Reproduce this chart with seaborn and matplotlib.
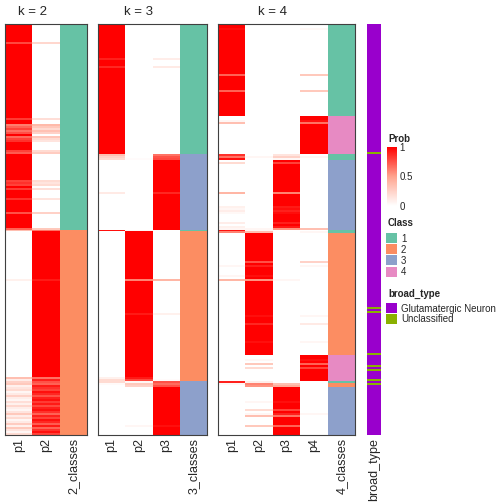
import numpy as np
import pandas as pd
import matplotlib
matplotlib.use("Agg")
import matplotlib.pyplot as plt
import seaborn as sns
from matplotlib.colors import LinearSegmentedColormap, ListedColormap
from matplotlib.patches import Rectangle
import matplotlib.cm as cm
import matplotlib.colors as mcolors

sns.set_style("white")
plt.rcParams['font.family'] = ['Liberation Sans', 'DejaVu Sans']

n_rows = 206

# class membership, top to bottom: (class, number of rows)
k2_runs = [(1, 103), (2, 103)]
k3_runs = [(1, 65), (3, 38), (1, 1), (2, 75), (3, 27)]
k4_runs = [(1, 46), (4, 19), (1, 3), (3, 35), (1, 2), (2, 61), (4, 13), (1, 1), (2, 2), (3, 24)]

# rows whose membership is not clean
k2_p1 = {9: 0.78, 47: 0.82, 50: 0.62, 51: 0.7, 52: 0.8, 53: 0.66, 54: 0.75, 56: 0.68,
         57: 0.8, 58: 0.85, 63: 0.8, 64: 0.72, 78: 0.8, 79: 0.85, 80: 0.8, 82: 0.82,
         87: 0.85, 94: 0.75, 102: 0.7, 103: 0.35, 128: 0.08}
k2_mixed_start = 177
k2_mixed_p1 = [0.35, 0.1, 0.25, 0.3, 0.08, 0.15, 0.2, 0.05, 0.12, 0.25, 0.1, 0.05, 0.18, 0.08,
               0.22, 0.1, 0.05, 0.15, 0.3, 0.1, 0.2, 0.05, 0.12, 0.28, 0.08, 0.3, 0.15, 0.05, 0.2]

k3_extra = {17: (0.9, 0, 0.1), 21: (0.88, 0, 0.12), 65: (0.35, 0, 0.65), 66: (0.25, 0, 0.75),
            67: (0.2, 0.02, 0.78), 84: (0.12, 0, 0.88), 103: (0.95, 0.05, 0),
            128: (0, 0.6, 0.4), 145: (0, 0.92, 0.08), 177: (0.08, 0.92, 0),
            178: (0.2, 0.78, 0.02), 179: (0.2, 0.05, 0.75), 180: (0.03, 0.3, 0.67),
            181: (0, 0.25, 0.75), 201: (0, 0.05, 0.95)}

k4_extra = {2: (0.96, 0, 0, 0.04), 25: (0.7, 0, 0, 0.3), 33: (0.7, 0, 0, 0.3),
            48: (0.05, 0, 0, 0.95), 49: (0.35, 0, 0, 0.65),
            65: (0.85, 0, 0.15, 0), 66: (0.65, 0.05, 0.25, 0.05), 67: (0.95, 0, 0.05, 0),
            69: (0.2, 0, 0.8, 0), 84: (0.4, 0, 0.6, 0), 91: (0.08, 0, 0.92, 0),
            92: (0.05, 0, 0.95, 0), 93: (0.1, 0, 0.9, 0), 94: (0.04, 0, 0.96, 0),
            99: (0.1, 0, 0.9, 0), 101: (0.08, 0, 0.92, 0), 102: (0.05, 0.05, 0.55, 0.35),
            103: (0.95, 0.05, 0, 0), 104: (0.6, 0.35, 0, 0.05),
            119: (0, 0.75, 0, 0.25), 121: (0.05, 0.9, 0, 0.05), 126: (0.05, 0.95, 0, 0),
            128: (0.4, 0.55, 0.05, 0), 146: (0, 0.95, 0, 0.05), 150: (0, 0.88, 0, 0.12),
            159: (0, 0.95, 0, 0.05), 168: (0, 0.05, 0, 0.95), 170: (0, 0.3, 0, 0.7),
            172: (0, 0.2, 0, 0.8), 179: (0.9, 0.1, 0, 0), 180: (0.05, 0.6, 0.35, 0),
            181: (0, 0.55, 0.45, 0), 189: (0, 0.05, 0.95, 0), 193: (0, 0.2, 0.8, 0),
            195: (0, 0.05, 0.9, 0.05), 196: (0, 0.35, 0.65, 0), 201: (0, 0.3, 0.7, 0)}

broad_unclassified = [64, 142, 144, 165, 171, 173, 178, 180]
broad_labels = ['Glutamatergic Neuron', 'Unclassified']

class_colors = ['#66C2A5', '#FC8D62', '#8DA0CB', '#E78AC3']
broad_colors = ['#9900CC', '#8AB000']

prob_cmap = LinearSegmentedColormap.from_list('prob', ['#FFFFFF', '#FFA48F', '#FF0000'])
class_cmap = ListedColormap(class_colors)


def build(k, runs, extra):
    cls = np.concatenate([[c] * n for c, n in runs])
    prob = np.zeros((n_rows, k))
    prob[np.arange(n_rows), cls - 1] = 1.0
    for r, p in extra.items():
        prob[r] = p
    df = pd.DataFrame(prob, columns=[f'p{i + 1}' for i in range(k)])
    df[f'{k}_classes'] = cls
    return df


k2_extra = {r: (v, 1 - v) for r, v in k2_p1.items()}
for i, v in enumerate(k2_mixed_p1):
    k2_extra[k2_mixed_start + i] = (v, 1 - v)

panels = [(2, build(2, k2_runs, k2_extra)),
          (3, build(3, k3_runs, k3_extra)),
          (4, build(4, k4_runs, k4_extra))]

W = H = 504


def box(x0, y0, x1, y1):
    return [x0 / W, 1 - y1 / H, (x1 - x0) / W, (y1 - y0) / H]


fig = plt.figure(figsize=(5.04, 5.04), dpi=100)

panel_x = [(5, 87), (98, 207), (218, 355)]
top, bottom = 24, 435

for (k, df), (x0, x1) in zip(panels, panel_x):
    ax = fig.add_axes(box(x0, top, x1, bottom))
    mask_p = np.zeros(df.shape, bool)
    mask_p[:, -1] = True
    sns.heatmap(df, mask=mask_p, cmap=prob_cmap, vmin=0, vmax=1, cbar=False,
                yticklabels=False, ax=ax)
    sns.heatmap(df, mask=~mask_p, cmap=class_cmap, vmin=0.5, vmax=4.5, cbar=False,
                yticklabels=False, ax=ax)
    ax.set_xticks(np.arange(df.shape[1]) + 0.5)
    ax.set_xticklabels(df.columns, rotation=90, fontsize=9)
    ax.tick_params(axis='x', length=0, pad=2)
    for s in ax.spines.values():
        s.set_visible(True)
        s.set_color('#404040')
        s.set_linewidth(0.8)
    # title centred over the probability columns
    cw = (x1 - x0) / (k + 1)
    fig.text((x0 + cw * k / 2) / W, 1 - 15 / H, f'k = {k}', ha='center', va='baseline',
             fontsize=9.5)

# broad_type annotation
broad = np.zeros(n_rows)
broad[broad_unclassified] = 1
bdf = pd.DataFrame({'broad_type': broad})
bax = fig.add_axes(box(367, top, 381, bottom))
sns.heatmap(bdf, cmap=ListedColormap(broad_colors), vmin=-0.5, vmax=1.5, cbar=False,
            yticklabels=False, ax=bax)
bax.set_xticks([0.5])
bax.set_xticklabels(['broad_type'], rotation=90, fontsize=9)
bax.tick_params(axis='x', length=0, pad=2)

# legends
lax = fig.add_axes([0, 0, 1, 1])
lax.set_xlim(0, W)
lax.set_ylim(H, 0)
lax.axis('off')
fs = 7
lax.text(388, 142, 'Prob', fontsize=fs, fontweight='bold', va='baseline')
cax = fig.add_axes(box(387, 147, 397, 206))
cb = fig.colorbar(cm.ScalarMappable(norm=mcolors.Normalize(0, 1), cmap=prob_cmap), cax=cax,
                  ticks=[0, 0.5, 1])
cb.outline.set_visible(False)
cax.set_yticklabels(['0', '0.5', '1'])
cax.tick_params(length=0, labelsize=fs, pad=2)

lax.text(388, 226, 'Class', fontsize=fs, fontweight='bold', va='baseline')
for i, c in enumerate(class_colors):
    y = 233 + i * 11.2
    lax.add_patch(Rectangle((386, y), 11, 10, facecolor=c, edgecolor='none'))
    lax.text(401, y + 5.5, str(i + 1), fontsize=fs, va='center')

lax.text(388, 297, 'broad_type', fontsize=fs, fontweight='bold', va='baseline')
for i, (lab, c) in enumerate(zip(broad_labels, broad_colors)):
    y = 303 + i * 11
    lax.add_patch(Rectangle((386, y), 11, 10, facecolor=c, edgecolor='none'))
    lax.text(401, y + 5.5, lab, fontsize=fs, va='center')

fig.savefig('out.png', dpi=100)
